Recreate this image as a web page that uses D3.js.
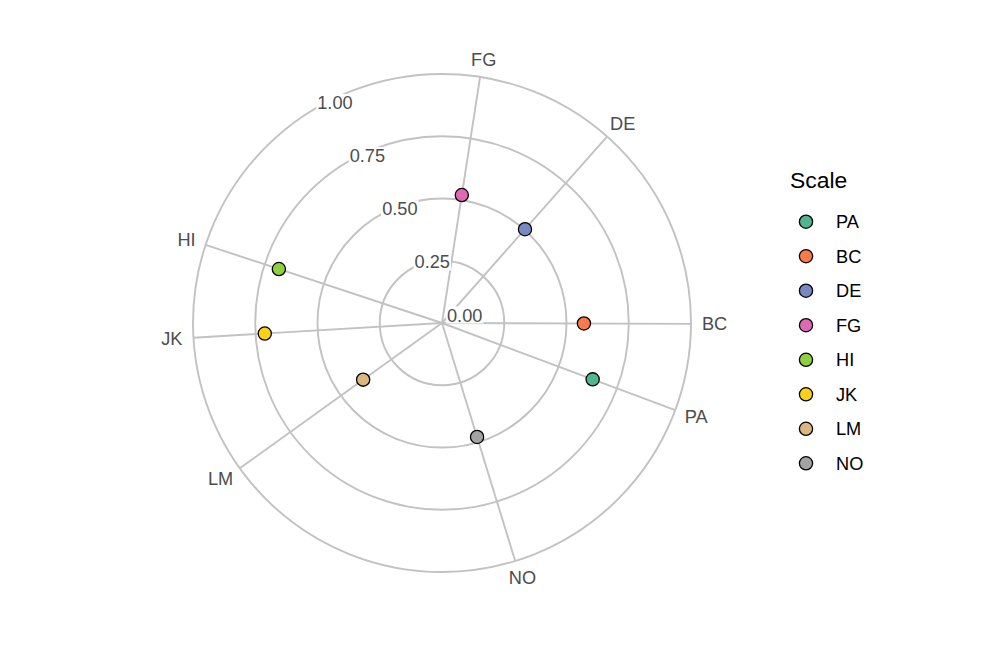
<!DOCTYPE html>
<html>
<head>
<meta charset="utf-8">
<script src="https://cdn.jsdelivr.net/npm/d3@7"></script>
<style>
  html, body { margin: 0; padding: 0; background: #fff; }
  svg { display: block; }
  text { font-family: "Liberation Sans", Arial, Helvetica, sans-serif; }
</style>
</head>
<body>
<svg id="chart" width="1008" height="648"></svg>
<script>
// ---- data ----
const categories = ["PA", "BC", "DE", "FG", "HI", "JK", "LM", "NO"];
const anglesDeg  = [110.5, 90.2, 41.5, 8.8, 288.3, 266.6, 234.3, 162.9];
const values     = [0.646, 0.570, 0.503, 0.520, 0.690, 0.713, 0.390, 0.479];
const colors     = ["#52B58F", "#FA7A4C", "#7889C2", "#DE6AB5", "#90D03F", "#FDD117", "#DCB67F", "#A3A3A3"];
const ringTicks  = [0, 0.25, 0.5, 0.75, 1.0];
const ringLabels = ["0.00", "0.25", "0.50", "0.75", "1.00"];
const ringLabelAngle = -31.4;
const legendTitle = "Scale";

// ---- layout ----
const cx = 442, cy = 323, R = 249;
const svg = d3.select("#chart");
const rScale = d3.scaleLinear().domain([0, 1]).range([0, R]);
const tScale = d3.scaleLinear().domain([0, 360]).range([0, 2 * Math.PI]);
const pt = (deg, v) => {
  const t = tScale(deg), r = rScale(v);
  return [cx + r * Math.sin(t), cy - r * Math.cos(t)];
};

const g = svg.append("g");
const grid = "#C2C2C2";

// rings
g.selectAll("circle.ring").data(ringTicks.filter(d => d > 0)).join("circle")
  .attr("class", "ring")
  .attr("cx", cx).attr("cy", cy)
  .attr("r", d => rScale(d))
  .attr("fill", "none").attr("stroke", grid).attr("stroke-width", 1.9);

// spokes
g.selectAll("line.spoke").data(anglesDeg).join("line")
  .attr("class", "spoke")
  .attr("x1", cx).attr("y1", cy)
  .attr("x2", d => pt(d, 1)[0]).attr("y2", d => pt(d, 1)[1])
  .attr("stroke", grid).attr("stroke-width", 1.9);

// ring labels with white background
const fs = 18.2, capH = 0.716 * fs;
const rl = g.selectAll("g.rl").data(ringTicks).join("g").attr("class", "rl");
rl.each(function(d, i) {
  const p = pt(ringLabelAngle, d);
  const x = p[0] + 22.7, y = p[1] - 8;
  const sel = d3.select(this);
  const rect = sel.append("rect").attr("fill", "#fff");
  const t = sel.append("text")
    .attr("x", x).attr("y", y + capH / 2)
    .attr("text-anchor", "middle")
    .attr("font-size", fs).attr("fill", "#4D4D4D")
    .text(ringLabels[i]);
  const w = t.node().getComputedTextLength();
  rect.attr("x", x - w / 2 - 1).attr("y", y - capH / 2 - 2)
      .attr("width", w + 2).attr("height", capH + 4);
});

// category labels
g.selectAll("text.cat").data(categories).join("text")
  .attr("class", "cat")
  .attr("font-size", fs).attr("fill", "#4D4D4D")
  .attr("text-anchor", "middle")
  .text(d => d)
  .each(function(d, i) {
    const w = this.getComputedTextLength();
    const t = tScale(anglesDeg[i]);
    const Rl = 260;
    const x = cx + Rl * Math.sin(t) + (w / 2) * Math.sin(t);
    const y = cy - Rl * Math.cos(t) - (capH / 2) * Math.cos(t);
    d3.select(this).attr("x", x).attr("y", y + capH / 2);
  });

// points
g.selectAll("circle.pt").data(categories).join("circle")
  .attr("class", "pt")
  .attr("cx", (d, i) => pt(anglesDeg[i], values[i])[0])
  .attr("cy", (d, i) => pt(anglesDeg[i], values[i])[1])
  .attr("r", 6.6)
  .attr("fill", (d, i) => colors[i])
  .attr("stroke", "#000").attr("stroke-width", 1.3);

// legend
const lg = svg.append("g");
lg.append("text").attr("x", 790).attr("y", 188)
  .attr("font-size", 22.9).attr("fill", "#000").text(legendTitle);
const legY = d3.scalePoint().domain(categories).range([221.7, 463.3]);
const items = lg.selectAll("g.item").data(categories).join("g").attr("class", "item");
items.append("circle")
  .attr("cx", 806).attr("cy", d => legY(d)).attr("r", 6.6)
  .attr("fill", (d, i) => colors[i])
  .attr("stroke", "#000").attr("stroke-width", 1.3);
items.append("text")
  .attr("x", 836).attr("y", d => legY(d) + capH / 2)
  .attr("font-size", fs).attr("fill", "#000")
  .text(d => d);
</script>
</body>
</html>
